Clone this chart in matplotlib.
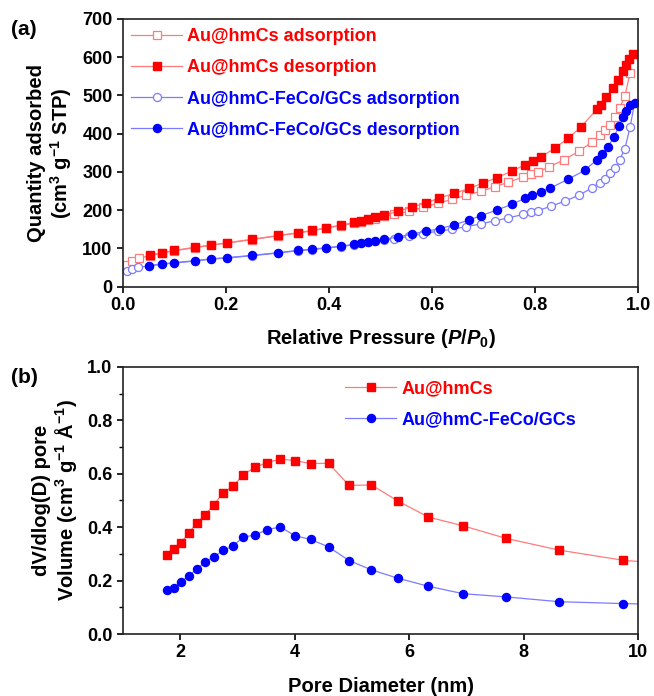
import matplotlib
matplotlib.use('Agg')
import matplotlib.pyplot as plt
from matplotlib.ticker import MultipleLocator

plt.rcParams['font.family'] = ['Liberation Sans', 'DejaVu Sans']
plt.rcParams['font.weight'] = 'bold'
plt.rcParams['mathtext.fontset'] = 'custom'
plt.rcParams['mathtext.rm'] = 'Liberation Sans:bold'
plt.rcParams['mathtext.bf'] = 'Liberation Sans:bold'
plt.rcParams['mathtext.it'] = 'Liberation Sans:bold:italic'

# (a) N2 isotherms
hm_ads_p = [0.007, 0.018, 0.032, 0.052, 0.076, 0.100, 0.139, 0.170, 0.202, 0.250, 0.301,
            0.339, 0.366, 0.394, 0.423, 0.449, 0.462, 0.476, 0.489, 0.506, 0.526, 0.556,
            0.583, 0.611, 0.638, 0.666, 0.694, 0.721, 0.748, 0.777, 0.792, 0.805, 0.827,
            0.856, 0.885, 0.911, 0.925, 0.935, 0.945, 0.955, 0.964, 0.974, 0.984]
hm_ads_q = [58, 68, 75, 81, 88, 94, 102, 108, 114, 123, 133, 140, 146, 153, 160, 166, 170,
            174, 178, 184, 189, 197, 208, 218, 228, 239, 249, 261, 273, 287, 294, 300, 313,
            332, 354, 379, 396, 410, 423, 444, 468, 498, 559]
hm_des_p = [0.990, 0.982, 0.977, 0.971, 0.960, 0.951, 0.938, 0.927, 0.920, 0.889, 0.864,
            0.838, 0.812, 0.796, 0.781, 0.754, 0.726, 0.699, 0.672, 0.643, 0.614, 0.588,
            0.560, 0.534, 0.506, 0.489, 0.476, 0.462, 0.449, 0.423, 0.394, 0.366, 0.339,
            0.301, 0.250, 0.202, 0.170, 0.139, 0.100, 0.076, 0.052]
hm_des_q = [607, 595, 580, 563, 540, 520, 495, 475, 464, 418, 388, 362, 340, 328, 319, 302,
            285, 271, 257, 244, 232, 219, 208, 197, 187, 182, 177, 172, 168, 161, 154, 147,
            141, 134, 124, 115, 109, 103, 95, 89, 82]

fc_ads_p = [0.007, 0.018, 0.030, 0.050, 0.076, 0.100, 0.139, 0.170, 0.202, 0.250, 0.301,
            0.339, 0.366, 0.394, 0.423, 0.449, 0.462, 0.476, 0.489, 0.506, 0.526, 0.556,
            0.583, 0.611, 0.638, 0.666, 0.694, 0.721, 0.748, 0.777, 0.792, 0.805, 0.830,
            0.858, 0.885, 0.911, 0.925, 0.935, 0.945, 0.955, 0.964, 0.974, 0.984, 0.993]
fc_ads_q = [40, 47, 51, 54, 59, 62, 67, 72, 75, 81, 88, 94, 97, 101, 105, 110, 113, 116, 119,
            122, 125, 132, 139, 145, 150, 157, 164, 172, 180, 189, 194, 199, 210, 224, 239,
            259, 272, 282, 296, 311, 332, 361, 417, 481]
fc_des_p = [0.993, 0.984, 0.977, 0.971, 0.963, 0.953, 0.941, 0.930, 0.919, 0.896, 0.864,
            0.828, 0.812, 0.794, 0.780, 0.754, 0.725, 0.695, 0.671, 0.643, 0.616, 0.588,
            0.561, 0.534, 0.506, 0.489, 0.476, 0.462, 0.449, 0.423, 0.394, 0.366, 0.339,
            0.301, 0.250, 0.202, 0.170, 0.139, 0.100, 0.076, 0.050]
fc_des_q = [481, 474, 459, 444, 421, 392, 365, 346, 331, 304, 281, 257, 248, 239, 231, 215,
            200, 186, 174, 162, 152, 145, 138, 130, 124, 120, 118, 115, 111, 106, 102, 98,
            95, 89, 82, 76, 73, 68, 63, 60, 55]

# (b) pore size distribution
pore_d = [1.77, 1.89, 2.01, 2.15, 2.29, 2.43, 2.59, 2.75, 2.92, 3.10, 3.30, 3.51, 3.75,
          4.00, 4.28, 4.59, 4.95, 5.34, 5.80, 6.33, 6.94, 7.69, 8.62, 9.74, 11.2]
hm_psd = [0.294, 0.319, 0.340, 0.378, 0.416, 0.445, 0.484, 0.529, 0.553, 0.595, 0.624,
          0.641, 0.655, 0.649, 0.638, 0.639, 0.556, 0.558, 0.498, 0.438, 0.405, 0.358,
          0.314, 0.276, 0.25]
fc_psd = [0.164, 0.173, 0.195, 0.218, 0.243, 0.269, 0.289, 0.313, 0.329, 0.363, 0.370,
          0.390, 0.401, 0.368, 0.354, 0.326, 0.275, 0.240, 0.209, 0.179, 0.151, 0.139,
          0.121, 0.114, 0.107]

RED = '#ff0000'
BLUE = '#0000ff'
LRED = '#ff7b7b'
LBLUE = '#7b7bff'

fig = plt.figure(figsize=(6.54, 6.96), dpi=100)
ax1 = fig.add_axes([0.188, 0.588, 0.788, 0.385])
ax2 = fig.add_axes([0.188, 0.089, 0.788, 0.384])

ms = 5.8
ax1.plot(hm_ads_p, hm_ads_q, '-s', color=LRED, lw=0.9, ms=ms, mfc='white', mec=LRED,
         mew=0.9, label='Au@hmCs adsorption')
ax1.plot(hm_des_p, hm_des_q, '-s', color=LRED, lw=0.9, ms=ms, mfc=RED, mec=RED,
         label='Au@hmCs desorption')
ax1.plot(fc_ads_p, fc_ads_q, '-o', color=LBLUE, lw=0.9, ms=ms, mfc='white', mec=LBLUE,
         mew=0.9, label='Au@hmC-FeCo/GCs adsorption')
ax1.plot(fc_des_p, fc_des_q, '-o', color=LBLUE, lw=0.9, ms=ms, mfc=BLUE, mec=BLUE,
         label='Au@hmC-FeCo/GCs desorption')

ax2.plot(pore_d, hm_psd, '-s', color=LRED, lw=0.9, ms=ms, mfc=RED, mec=RED, label='Au@hmCs')
ax2.plot(pore_d, fc_psd, '-o', color=LBLUE, lw=0.9, ms=ms, mfc=BLUE, mec=BLUE,
         label='Au@hmC-FeCo/GCs')

ax1.set_xlim(0, 1.0)
ax1.set_ylim(0, 700)
ax1.yaxis.set_major_locator(MultipleLocator(100))
ax1.set_xticks([0, 0.2, 0.4, 0.6, 0.8, 1.0], ['0.0', '0.2', '0.4', '0.6', '0.8', '1.0'])

ax2.set_xlim(1, 10)
ax2.set_ylim(0, 1.0)
ax2.xaxis.set_major_locator(MultipleLocator(2))
ax2.yaxis.set_minor_locator(MultipleLocator(0.1))
ax2.set_yticks([0, 0.2, 0.4, 0.6, 0.8, 1.0], ['0.0', '0.2', '0.4', '0.6', '0.8', '1.0'])

fs = 13
lfs = 14.5
for ax in (ax1, ax2):
    for s in ax.spines.values():
        s.set_linewidth(1.2)
        s.set_color('#222222')
    ax.tick_params(which='major', direction='out', length=4, width=1.2, labelsize=fs)
    ax.tick_params(which='minor', direction='out', length=3, width=1.0)
    for lab in ax.get_xticklabels() + ax.get_yticklabels():
        lab.set_fontweight('bold')

ax1.set_xlabel(r'Relative Pressure ($P$/$P_0$)', fontsize=lfs, fontweight='bold', labelpad=9)
ax1.set_ylabel('Quantity adsorbed\n(cm$^3$ g$^{-1}$ STP)', fontsize=lfs,
               fontweight='bold', labelpad=6, linespacing=1.1)
ax2.set_xlabel('Pore Diameter (nm)', fontsize=lfs, fontweight='bold', labelpad=11)
ax2.set_ylabel('dV/dlog(D) pore\nVolume (cm$^3$ g$^{-1}$ Å$^{-1}$)', fontsize=lfs,
               fontweight='bold', labelpad=6, linespacing=1.1)

ax1.legend(loc='upper left', bbox_to_anchor=(-0.015, 1.025), frameon=False, numpoints=1,
           handlelength=2.8, handletextpad=0.3, labelspacing=0.78,
           prop={'size': fs, 'weight': 'bold'},
           labelcolor=[RED, RED, BLUE, BLUE])
ax2.legend(loc='upper left', bbox_to_anchor=(0.40, 1.01), frameon=False, numpoints=1,
           handlelength=2.8, handletextpad=0.3, labelspacing=0.78,
           prop={'size': fs, 'weight': 'bold'},
           labelcolor=[RED, BLUE])

fig.text(0.017, 0.957, '(a)', fontsize=15, fontweight='bold', ha='left', va='center')
fig.text(0.017, 0.457, '(b)', fontsize=15, fontweight='bold', ha='left', va='center')

fig.savefig('out.png', dpi=100)
